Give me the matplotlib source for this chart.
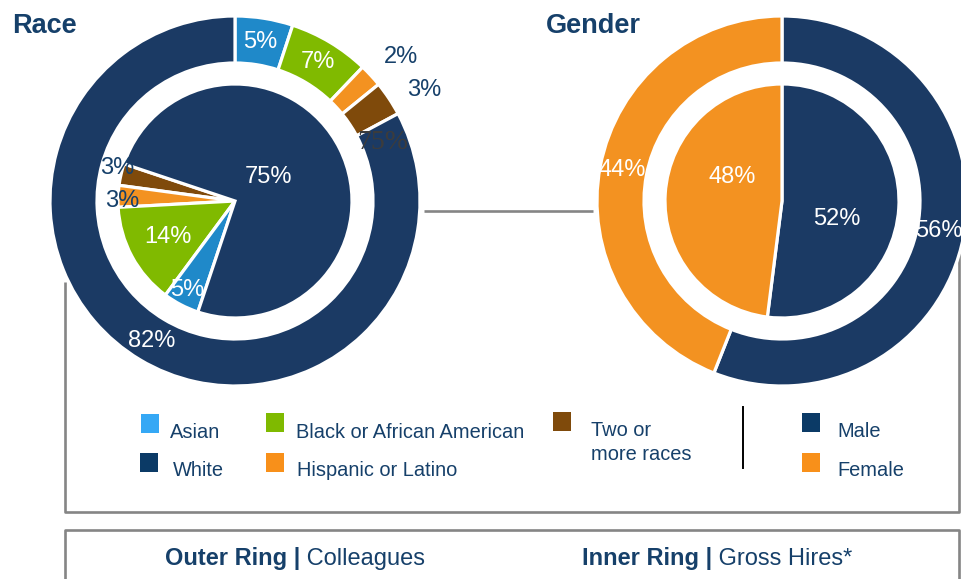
import numpy as np
import matplotlib
matplotlib.use("Agg")
import matplotlib.pyplot as plt
from matplotlib.patches import Rectangle

plt.rcParams['font.family'] = ['Liberation Sans', 'DejaVu Sans']

# ---------------- data ----------------
race_outer_categories = ['Asian', 'Black or African American', 'Hispanic or Latino',
                         'Two or more races', 'White']
race_outer_values = [5, 7, 2, 3, 82]          # Colleagues
race_inner_categories = ['Two or more races', 'Hispanic or Latino',
                         'Black or African American', 'Asian', 'White']
race_inner_values = [3, 3, 14, 5, 75]         # Gross Hires
gender_categories = ['Male', 'Female']
gender_outer_values = [56, 44]                # Colleagues
gender_inner_values = [52, 48]                # Gross Hires

legend_race = ['Asian', 'White', 'Black or African American', 'Hispanic or Latino',
               'Two or\nmore races']
legend_gender = ['Male', 'Female']

# ---------------- styles ----------------
W, H = 962, 579
NAVY = '#1b3a64'
PIE_COL = {'Asian': '#1f89c9', 'Black or African American': '#80ba00',
           'Hispanic or Latino': '#f39221', 'Two or more races': '#7f4a0b',
           'White': NAVY, 'Male': NAVY, 'Female': '#f39221'}
LEG_COL = {'Asian': '#35a8f5', 'White': '#0b3a66', 'Black or African American': '#7fba00',
           'Hispanic or Latino': '#f8901a', 'Two or\nmore races': '#7f4a0b',
           'Male': '#0b3a66', 'Female': '#f8901a'}
TXT = '#16406a'
GRAY = '#858585'


def Y(y):
    return H - y


fig = plt.figure(figsize=(W / 100, H / 100), dpi=100)
ax = fig.add_axes([0, 0, 1, 1])

R_OUT, RING_W, R_IN = 185, 47, 117
wp = dict(edgecolor='white', linewidth=2.3)

c_race = (235, Y(201))
c_gen = (782, Y(201))

ro, _ = ax.pie(race_outer_values, colors=[PIE_COL[c] for c in race_outer_categories],
               center=c_race, radius=R_OUT, startangle=90, counterclock=False,
               wedgeprops=dict(width=RING_W, **wp))
ri, _ = ax.pie(race_inner_values, colors=[PIE_COL[c] for c in race_inner_categories],
               center=c_race, radius=R_IN, startangle=161.5, counterclock=True,
               wedgeprops=wp)
go, _ = ax.pie(gender_outer_values, colors=[PIE_COL[c] for c in gender_categories],
               center=c_gen, radius=R_OUT, startangle=90, counterclock=False,
               wedgeprops=dict(width=RING_W, **wp))
gi, _ = ax.pie(gender_inner_values, colors=[PIE_COL[c] for c in gender_categories],
               center=c_gen, radius=R_IN, startangle=90, counterclock=False,
               wedgeprops=wp)

ax.set_xlim(0, W)
ax.set_ylim(0, H)
ax.set_aspect('auto')
ax.axis('off')


def wlabel(wedge, center, r, text, color='white', dang=0.0, size=17, **kw):
    th = np.deg2rad((wedge.theta1 + wedge.theta2) / 2 + dang)
    ax.text(center[0] + r * np.cos(th), center[1] + r * np.sin(th), text,
            ha='center', va='center', color=color, fontsize=size, **kw)


# race outer labels
outer_r = [161, 162, 220, 219, 163]
outer_da = [0, 0, -1.8, -3.2, 0]
outer_c = ['white', 'white', TXT, TXT, 'white']
for w, v, r, da, col in zip(ro, race_outer_values, outer_r, outer_da, outer_c):
    wlabel(w, c_race, r, f'{v}%', col, da)

# race inner labels
inner_r = [122, 113, 76, 101, 41]
inner_da = [-2.6, 2.3, 0, -0.6, 9]
inner_c = [TXT, TXT, 'white', 'white', 'white']
for w, v, r, da, col in zip(ri, race_inner_values, inner_r, inner_da, inner_c):
    wlabel(w, c_race, r, f'{v}%', col, da)
# stray label visible in the original graphic
wlabel(ri[-1], c_race, 159, f'{race_inner_values[-1]}%', '#3c3c3c', -4.8, size=20,
       family=['Liberation Serif', 'DejaVu Serif'], zorder=5)

# gender labels
for w, v, r, da in zip(go, gender_outer_values, [160, 163], [0, 0]):
    wlabel(w, c_gen, r, f'{v}%', 'white', da)
for w, v, r, da in zip(gi, gender_inner_values, [58, 55.5], [-14.5, -22]):
    wlabel(w, c_gen, r, f'{v}%', 'white', da)

# titles
ax.text(12, Y(26), 'Race', fontsize=19.5, fontweight='bold', color=TXT, va='center', ha='left')
ax.text(546, Y(26), 'Gender', fontsize=19.5, fontweight='bold', color=TXT, va='center', ha='left')

# connector / bracket lines
lk = dict(color=GRAY, lw=1.9, solid_capstyle='butt', zorder=0)
ax.plot([424, 593], [Y(210.5), Y(210.5)], **lk)
ax.plot([65, 65, 959, 959], [Y(282), Y(512), Y(512), Y(237)], **lk)
# bottom box
ax.plot([65, 65, 959, 959], [Y(590), Y(529.5), Y(529.5), Y(590)], **lk)

# legend
SQ = 18.5
leg_pos = {'Asian': (141, 414, 170, 438), 'White': (140, 453, 173, 476),
           'Black or African American': (266, 413, 296, 438),
           'Hispanic or Latino': (266, 453, 297, 476),
           'Two or\nmore races': (553, 412, 591, 435.5),
           'Male': (802, 413, 837, 437), 'Female': (802, 453, 837, 476)}
for name in legend_race + legend_gender:
    sx, sy, tx, ty = leg_pos[name]
    ax.add_patch(Rectangle((sx, Y(sy + SQ)), SQ, SQ, facecolor=LEG_COL[name], edgecolor='none'))
    lines = name.split('\n')
    for k, ln in enumerate(lines):
        ax.text(tx, Y(ty + 24 * k), ln, fontsize=14.4, color=TXT, ha='left', va='baseline')
ax.plot([743.5, 743.5], [Y(407), Y(468)], color='black', lw=1.4)

# bottom captions
renderer = fig.canvas.get_renderer()
for x0, bold, reg in [(165, 'Outer Ring |', ' Colleagues'), (582, 'Inner Ring |', ' Gross Hires*')]:
    t = ax.text(x0, Y(565), bold, fontsize=17, fontweight='bold', color=TXT, ha='left', va='baseline')
    bb = t.get_window_extent(renderer)
    x1 = ax.transData.inverted().transform((bb.x1, bb.y0))[0]
    ax.text(x1, Y(565), reg, fontsize=17, color=TXT, ha='left', va='baseline')

fig.savefig('out.png', dpi=100)
